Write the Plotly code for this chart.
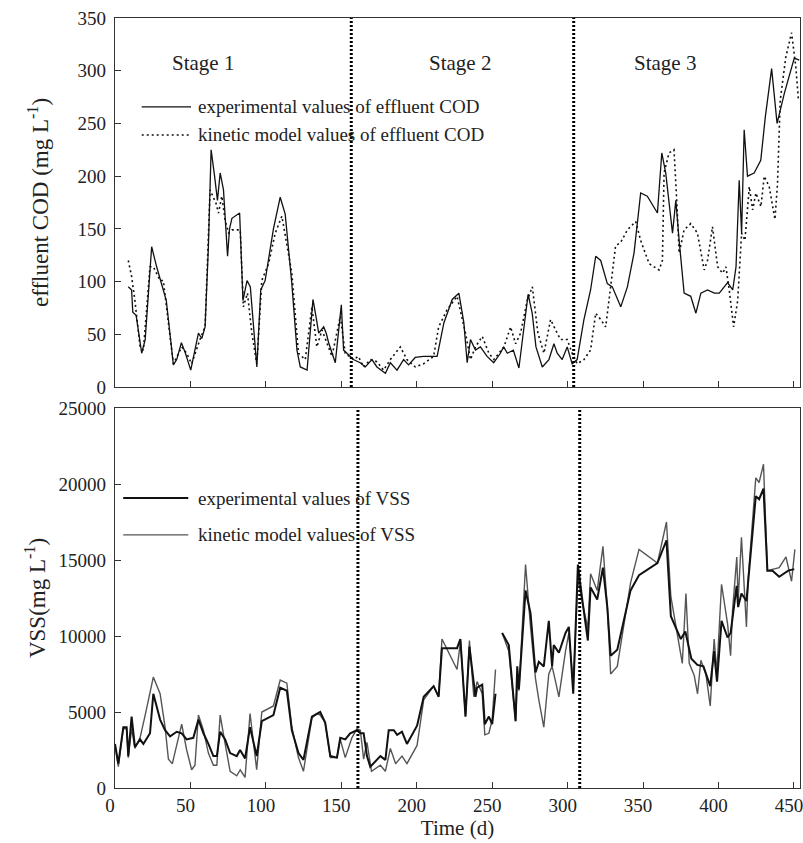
import plotly.graph_objects as go

# ---------------- data: effluent COD (mg/L) ----------------
cod_exp_t = [8.8, 11, 11.8, 14, 17.7, 20, 24.3, 27.6, 32, 34, 38.7, 40.9, 44, 46.7, 50.2, 55.3, 57.5, 59.7,
             61.9, 63.7, 66, 67.9, 69.7, 71.9, 74.6, 75.9, 77.5, 82.6, 84.8, 87.5, 89.7, 94, 96.6, 99.5,
             105, 109.5, 112.8, 117.2, 120.6, 122.8, 127.3, 131.2, 133.2, 135, 138.3, 140, 141.6, 144.9,
             146, 150, 151.5, 153.7, 158, 162.5, 165.9, 170.3, 173.6, 179.2, 182.5, 186.9, 191.3, 194.6,
             199, 204.5, 213.5, 218, 223.5, 227.9, 231.2, 233.4, 235.6, 238.9, 242.2, 246.6, 251, 255.4,
             257.6, 260, 264, 267.7, 271, 273.8, 276.5, 279, 283.2, 287.6, 290.9, 293.1, 296.4, 299.7,
             303, 306.3, 310.8, 315.2, 318.6, 321.9, 326.3, 329.6, 335.2, 339.6, 344, 348.4, 352.8, 359.5,
             362.4, 365, 369.5, 371.7, 373.9, 377.2, 381.6, 385, 388.3, 392.7, 397.2, 400.5, 406, 409.4,
             411.6, 413.7, 415.3, 417, 419.2, 423.6, 428, 431, 435.2, 438.8, 443.7, 450.2, 453.5]
cod_exp_v = [95, 92, 71, 68, 32, 45, 133, 114, 92, 82, 21, 26, 42, 32, 16, 51, 46, 57,
             133, 225, 200, 177, 203, 187, 124, 150, 160, 165, 82, 101, 95, 19, 92, 101,
             150, 180, 164, 98, 35, 19, 16, 83, 67, 51, 57, 51, 42, 26,
             23, 78, 35, 32, 26, 23, 19, 26, 19, 13, 23, 16, 26, 21,
             28, 29, 29, 61, 83, 89, 61, 23, 45, 35, 38, 29, 23, 32,
             38, 32, 35, 18, 54, 88, 70, 38, 19, 26, 41, 32, 26, 38,
             22, 26, 64, 92, 124, 120, 98, 95, 76, 95, 127, 184, 181, 165,
             222, 203, 146, 177, 139, 89, 86, 70, 89, 92, 89, 89, 99, 92,
             114, 196, 146, 244, 200, 203, 215, 256, 302, 250, 279, 312, 310]

cod_mod_t = [8.8, 11, 13.2, 16.6, 18.8, 23.2, 25.4, 29.9, 32, 35.4, 38.7, 44.2, 47.5, 50.8, 56.3, 59.7,
             63, 67, 68.6, 70.8, 73, 75.3, 77.5, 83, 85.1, 87.8, 90.7, 94, 97.3, 101.8, 106.2, 110.6,
             113.9, 117.2, 121.6, 126.1, 130.5, 133.8, 137.2, 140.5, 143.8, 149.3, 152.6, 158, 161.3,
             164.8, 169.2, 173.6, 178, 182.5, 189.1, 193.5, 199, 204.5, 211.2, 214.5, 220, 226.7, 232.3,
             235.6, 238.9, 243.4, 247.8, 251.1, 257.8, 262.2, 265.5, 268.8, 273.2, 276.6, 280.3, 284.3,
             288.7, 292, 295.3, 299.7, 303, 306.3, 310.8, 315.2, 318.6, 321.9, 325.2, 328.5, 331.8,
             335.1, 339.6, 345.1, 348.4, 354, 360.6, 362.8, 363.9, 367.2, 370.5, 372.3, 373.9, 377.2,
             381.6, 386, 390.5, 392.7, 396, 399.4, 402.7, 404.9, 407.1, 410, 412.7, 415.3, 417.5, 420.4,
             422.6, 424.8, 428.1, 430.3, 433.6, 437.4, 439.1, 440.9, 444.6, 448.4, 451.2, 453]
cod_mod_v = [120, 105, 82, 38, 35, 114, 114, 101, 101, 60, 22, 38, 32, 22, 45, 57,
             187, 174, 165, 181, 158, 146, 149, 149, 76, 89, 51, 22, 101, 117, 146, 162,
             136, 108, 32, 26, 76, 38, 54, 41, 29, 67, 32, 26, 29,
             19, 26, 24, 16, 26, 38, 26, 19, 22, 29, 57, 73, 86, 51,
             26, 38, 48, 32, 26, 38, 57, 41, 51, 82, 95, 51, 32,
             64, 54, 45, 45, 32, 22, 26, 35, 70, 64, 57, 95, 134,
             137, 149, 157, 139, 117, 111, 120, 203, 222, 225, 177, 127, 149,
             155, 146, 111, 120, 152, 114, 108, 114, 92, 57, 82, 146, 139, 190,
             168, 184, 171, 200, 190, 159, 193, 272, 313, 336, 304, 272]

# ---------------- data: VSS (mg/L) ----------------
vss_exp_t = [0, 2.2, 5.5, 7.7, 8.8, 11, 13.2, 16.6, 18.8, 23.2, 25.4, 29.9, 33.2, 36.5, 40.9, 44.2, 47.5,
             51.9, 55.3, 58.6, 61.9, 65.2, 67.5, 69.7, 73, 76.3, 80.7, 82.9, 86.2, 89.5, 93.9, 97.3, 105,
             109.5, 113.9, 117.2, 121.6, 124.9, 130.5, 133.8, 136, 139.3, 142.7, 147.1, 149.3, 152.6,
             155.9, 160.4, 162.6, 164.8, 167, 169.2, 175.9, 179.2, 181.4, 184.8, 187, 190.2, 193.5, 200.2,
             204.6, 211.2, 214.5, 216.7, 219, 226.7, 228.9, 232.3, 234.9, 237.8, 238.9, 240, 243.4, 245.1,
             247.8, 250, 252.2, 254.5, 256.6, 261, 265.5, 266.6, 267.7, 272.1, 275.4, 278.7, 280.9, 284.2,
             287.5, 289.7, 290.8, 294.2, 298.6, 300.8, 303.7, 306.8, 309.7, 313.4, 315.2, 319.6, 323.4,
             326.3, 328.5, 332.9, 341.7, 347.3, 359.5, 365.5, 368.4, 375, 378, 382, 386, 390, 394.5, 397,
             399, 402, 406, 408, 409.3, 412, 413, 415.2, 418.5, 420.5, 424.7, 426.9, 429.8, 432.4, 435.8,
             440.2, 446.2, 450.2]
vss_exp_v = [2900, 1600, 4000, 4000, 2100, 4700, 2700, 3200, 2900, 3600, 6200, 4500, 3800, 3400, 3700, 3600, 3200,
             3300, 4500, 3600, 2900, 2100, 2100, 3700, 3200, 2300, 2100, 2500, 1950, 4000, 2100, 4400, 4800,
             6600, 6400, 3800, 2300, 1850, 4700, 4900, 5000, 4300, 2100, 2000, 3300, 3200,
             3600, 3800, 3600, 3600, 2100, 1400, 2100, 1850, 3800, 3800, 3500, 3700, 2900, 4100,
             6000, 6700, 6000, 9200, 9200, 9200, 9800, 4700, 9300, 6900, 6000, 6600, 6800, 4200,
             4700, 4200, 6200, None, 10200, 9400, 4400, 8000, 6500, 13000, 11500, 7600, 8300, 8000,
             11000, 8000, 9400, 8900, 10200, 10600, 6200, 14700, 12400, 9700, 13200, 12400, 14500,
             11900, 8700, 9100, 13000, 14000, 14800, 16300, 11300, 9800, 10300, 8500, 8100, 8000, 6700, 9000,
             7000, 11000, 9900, 10200, 11200, 13300, 11900, 12800, 12300, 14500, 19200, 19000, 19700, 14300, 14300,
             13900, 14300, 14400]

vss_mod_t = [0, 2.2, 5.5, 7.7, 8.8, 11, 13.2, 16.6, 20, 25.4, 29.9, 33.2, 35.4, 38, 44.2, 47.5, 50.8, 53,
             55.3, 58.6, 61.9, 65.2, 67.5, 69.7, 73, 76.3, 80.7, 83, 86.2, 89.5, 93.9, 97.3, 105, 109.5,
             113.9, 117.2, 121.6, 124.9, 130.5, 133.8, 136, 139.3, 142.7, 147.1, 149.3, 152.6, 157, 160.4,
             162.6, 164.8, 167, 170, 175.9, 179.2, 182.5, 186, 190.2, 193.5, 200.2, 204.6, 211.2, 214.5,
             216.7, 226.7, 229, 232.3, 234.9, 237.8, 240, 243.4, 245.1, 247.8, 250, 252.2, 254.5, 256.6,
             261, 265.5, 266.6, 267.7, 272.1, 275.4, 278.7, 280.9, 284.2, 287.5, 289.7, 292, 294.2, 298.6,
             300.8, 303.7, 306.8, 309.7, 313.4, 315.2, 319.6, 323.4, 326.3, 328.5, 332.9, 341.7, 347.3,
             359.5, 365.5, 368.4, 376, 378.4, 380.6, 383.9, 386.1, 388.3, 391.6, 394.5, 397.1, 398.9, 402,
             406, 408, 409.3, 412.1, 413, 415.2, 418.5, 419.6, 424.7, 426.9, 429.8, 432.4, 440.2, 444.7,
             448.4, 450.6]
vss_mod_v = [2800, 1400, 3900, 3900, 2000, 3900, 2600, 3300, 4800, 7300, 6200, 4000, 1900, 1600, 4200, 2500, 1200, 1500,
             4800, 3800, 2300, 1500, 1500, 4800, 2900, 1100, 800, 1200, 700, 4900, 1200, 5000, 5400, 7100,
             6900, 4000, 2000, 1100, 4600, 4900, 4800, 4300, 2000, 2000, 3200, 2000, 3300, 3900,
             3800, 1900, 3000, 1100, 1500, 1100, 2600, 1600, 2100, 1600, 2800, 5800, 6700, 6000,
             9800, 7800, 9700, 4700, 9700, 6000, 7000, 6200, 3500, 3600, 4500, 7800, None, 10200,
             9000, 4400, 7000, 6400, 14700, 10600, 7200, 5800, 4000, 7500, 8000, 7000, 6000, 9000,
             10200, 6800, 13800, 12200, 10500, 14100, 13000, 15900, 11900, 7500, 8000, 13500, 15700,
             14800, 17500, 12600, 8200, 12800, 8200, 7400, 6200, 8400, 7500, 5400, 9800, 7600, 13400,
             10800, 8700, 11700, 15200, 12300, 16500, 10600, 13700, 20400, 20100, 21300, 14300, 14500, 15200,
             13600, 15700]

x_ticks = [0, 50, 100, 150, 200, 250, 300, 350, 400, 450]
stage_bounds_cod = [156.6, 304]
stage_bounds_vss = [161, 308]
stage_names = ["Stage 1", "Stage 2", "Stage 3"]
stage_label_x = [0.129, 0.504, 0.803]

FONT = "Liberation Serif"
TXT = "#222222"
fig = go.Figure()

fig.add_trace(go.Scatter(x=cod_exp_t, y=cod_exp_v, mode="lines", xaxis="x", yaxis="y",
                         line=dict(color="#111111", width=1.3), showlegend=False))
fig.add_trace(go.Scatter(x=cod_mod_t, y=cod_mod_v, mode="lines", xaxis="x", yaxis="y",
                         line=dict(color="#111111", width=1.6, dash="2px,3px"), showlegend=False))
fig.add_trace(go.Scatter(x=vss_mod_t, y=vss_mod_v, mode="lines", xaxis="x2", yaxis="y2",
                         line=dict(color="#555555", width=1.4), showlegend=False, connectgaps=False))
fig.add_trace(go.Scatter(x=vss_exp_t, y=vss_exp_v, mode="lines", xaxis="x2", yaxis="y2",
                         line=dict(color="#111111", width=2.0), showlegend=False, connectgaps=False))

shapes = []
for b in stage_bounds_cod:
    shapes.append(dict(type="line", xref="x", yref="y domain", x0=b, x1=b, y0=0, y1=1,
                       line=dict(color="black", width=3, dash="2px,2px")))
for b in stage_bounds_vss:
    shapes.append(dict(type="line", xref="x2", yref="y2 domain", x0=b, x1=b, y0=0, y1=1,
                       line=dict(color="black", width=3, dash="2px,2px")))
# legend samples
shapes.append(dict(type="line", xref="x domain", yref="y domain", x0=0.039, x1=0.111, y0=0.759, y1=0.759,
                   line=dict(color="#111111", width=1.3)))
shapes.append(dict(type="line", xref="x domain", yref="y domain", x0=0.039, x1=0.111, y0=0.683, y1=0.683,
                   line=dict(color="#111111", width=1.6, dash="2px,3px")))
shapes.append(dict(type="line", xref="x2 domain", yref="y2 domain", x0=0.012, x1=0.107, y0=0.763, y1=0.763,
                   line=dict(color="#111111", width=2.0)))
shapes.append(dict(type="line", xref="x2 domain", yref="y2 domain", x0=0.012, x1=0.107, y0=0.666, y1=0.666,
                   line=dict(color="#555555", width=1.4)))

annotations = []
for name, sx in zip(stage_names, stage_label_x):
    annotations.append(dict(text=name, xref="x domain", yref="y domain", x=sx, y=0.878,
                            xanchor="center", yanchor="middle",
                            showarrow=False, font=dict(family=FONT, size=21, color=TXT)))
legend_items = [("experimental values of effluent COD", "x domain", "y domain", 0.759),
                ("kinetic model values of effluent COD", "x domain", "y domain", 0.683),
                ("experimental values of VSS", "x2 domain", "y2 domain", 0.763),
                ("kinetic model values of VSS", "x2 domain", "y2 domain", 0.666)]
for txt, xr, yr, yy in legend_items:
    annotations.append(dict(text=txt, xref=xr, yref=yr, x=0.118, y=yy, xanchor="left", yanchor="middle",
                            showarrow=False, font=dict(family=FONT, size=19, color=TXT)))

axis_common = dict(showline=True, linecolor="#333", linewidth=1.2, mirror=True, ticks="inside",
                   ticklen=6, tickcolor="#333", showgrid=False, zeroline=False, automargin=False,
                   tickfont=dict(family=FONT, size=19, color=TXT))

fig.update_layout(
    width=803, height=843,
    margin=dict(l=115, r=3, t=18, b=55),
    paper_bgcolor="white", plot_bgcolor="white",
    shapes=shapes, annotations=annotations,
    xaxis=dict(domain=[0, 1], range=[0, 454], anchor="y", tickvals=x_ticks,
               showticklabels=False, **axis_common),
    yaxis=dict(domain=[0.5208, 1], range=[0, 350], anchor="x", dtick=50, ticklabelstandoff=4,
               title=dict(text="effluent COD (mg L<sup>-1</sup>)", font=dict(family=FONT, size=23, color=TXT),
                          standoff=22),
               **axis_common),
    xaxis2=dict(domain=[0, 1], range=[0, 454], anchor="y2", tickvals=x_ticks, ticklabeloverflow="allow",
                ticklabelshift=-5,
                title=dict(text="Time (d)", font=dict(family=FONT, size=21, color=TXT), standoff=4),
                **axis_common),
    yaxis2=dict(domain=[0, 0.4935], range=[0, 25000], anchor="x2", dtick=5000, tickformat="d",
                ticklabelstandoff=4,
                title=dict(text="VSS(mg L<sup>-1</sup>)", font=dict(family=FONT, size=23, color=TXT),
                           standoff=6),
                **axis_common),
)

fig.write_html("out.html")
